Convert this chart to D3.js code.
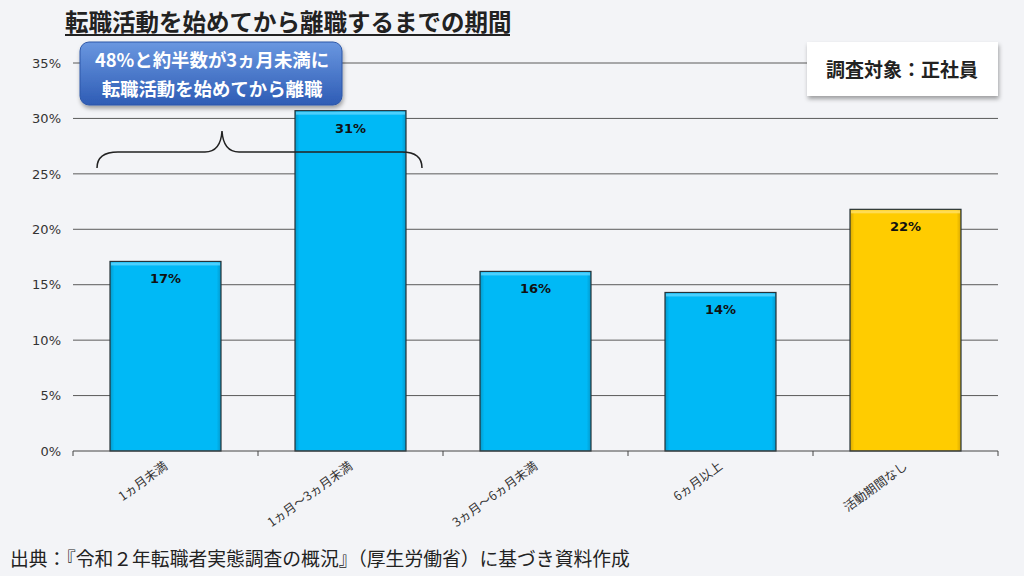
<!DOCTYPE html>
<html>
<head>
<meta charset="utf-8">
<script src="https://cdn.jsdelivr.net/npm/d3@7"></script>
<style>
  body { margin: 0; background: #f3f4f7; }
  svg { display: block; font-family: "Noto Sans CJK JP", "Noto Sans", sans-serif; }
</style>
</head>
<body>
<div id="chart"></div>
<script>
const width = 1024;
const height = 576;

const categories = ["1ヵ月未満", "1ヵ月～3ヵ月未満", "3ヵ月～6ヵ月未満", "6ヵ月以上", "活動期間なし"];
const values = [17.1, 30.7, 16.2, 14.3, 21.8];
const valueLabels = ["17%", "31%", "16%", "14%", "22%"];
const yTicks = [0, 5, 10, 15, 20, 25, 30, 35];

const data = categories.map((c, i) => ({ cat: c, value: values[i], label: valueLabels[i] }));

const svg = d3.select("#chart")
  .append("svg")
  .attr("width", width)
  .attr("height", height);

svg.append("rect").attr("width", width).attr("height", height).attr("fill", "#f3f4f7");

const defs = svg.append("defs");

function barGrad(id, edge, mid) {
  const g = defs.append("linearGradient").attr("id", id).attr("x1", 0).attr("x2", 1).attr("y1", 0).attr("y2", 0);
  g.append("stop").attr("offset", "0%").attr("stop-color", edge);
  g.append("stop").attr("offset", "4%").attr("stop-color", mid);
  g.append("stop").attr("offset", "96%").attr("stop-color", mid);
  g.append("stop").attr("offset", "100%").attr("stop-color", edge);
}
barGrad("blueBar", "#0399cc", "#00b9f6");
barGrad("goldBar", "#d9a800", "#ffcc00");

const calloutGrad = defs.append("linearGradient").attr("id", "callout").attr("x1", 0).attr("x2", 0).attr("y1", 0).attr("y2", 1);
calloutGrad.append("stop").attr("offset", "0%").attr("stop-color", "#6a97e0");
calloutGrad.append("stop").attr("offset", "100%").attr("stop-color", "#2e5cb5");

const shadow = defs.append("filter").attr("id", "shadow").attr("x", "-10%").attr("y", "-10%").attr("width", "130%").attr("height", "140%");
shadow.append("feDropShadow").attr("dx", 1).attr("dy", 3).attr("stdDeviation", 2).attr("flood-color", "#000").attr("flood-opacity", 0.35);

// scales
const xScale = d3.scaleBand()
  .domain(categories)
  .range([73, 998])
  .paddingInner(0.4)
  .paddingOuter(0.2);

const yScale = d3.scaleLinear()
  .domain([0, 35])
  .range([451, 63]);

// gridlines
svg.append("g")
  .selectAll("line")
  .data(yTicks.filter(d => d > 0))
  .enter()
  .append("line")
  .attr("x1", 73)
  .attr("x2", 998)
  .attr("y1", d => yScale(d))
  .attr("y2", d => yScale(d))
  .attr("stroke", "#5a5a5a")
  .attr("stroke-width", 1);

// y axis
const yAxis = d3.axisLeft(yScale)
  .tickValues(yTicks)
  .tickFormat(d => d + "%")
  .tickSize(0)
  .tickPadding(12);

const yG = svg.append("g")
  .attr("transform", "translate(73,0)")
  .call(yAxis);
yG.select(".domain").remove();
yG.selectAll("text")
  .attr("fill", "#333")
  .style("font-family", "'DejaVu Sans', Verdana, sans-serif")
  .style("font-size", "13px");

// bars
svg.append("g")
  .selectAll("rect")
  .data(data)
  .enter()
  .append("rect")
  .attr("x", d => xScale(d.cat))
  .attr("y", d => yScale(d.value))
  .attr("width", xScale.bandwidth())
  .attr("height", d => yScale(0) - yScale(d.value))
  .attr("fill", (d, i) => i === 4 ? "url(#goldBar)" : "url(#blueBar)")
  .attr("stroke", "#263238")
  .attr("stroke-width", 1.2);

// top highlight of bars
svg.append("g")
  .selectAll("rect")
  .data(data)
  .enter()
  .append("rect")
  .attr("x", d => xScale(d.cat) + 1)
  .attr("y", d => yScale(d.value) + 1)
  .attr("width", xScale.bandwidth() - 2)
  .attr("height", 3)
  .attr("fill", (d, i) => i === 4 ? "#ffe066" : "#5fd6ff")
  .attr("opacity", 0.8);

// value labels
svg.append("g")
  .selectAll("text")
  .data(data)
  .enter()
  .append("text")
  .attr("x", d => xScale(d.cat) + xScale.bandwidth() / 2)
  .attr("y", d => yScale(d.value) + 22)
  .attr("text-anchor", "middle")
  .attr("fill", "#111")
  .style("font-family", "'DejaVu Sans', Verdana, sans-serif")
  .style("font-weight", "bold")
  .style("font-size", "13px")
  .text(d => d.label);

// x axis
const xBoundary = d3.scaleLinear().domain([0, 5]).range([73, 998]);
const xAxisG = svg.append("g");
xAxisG.append("line")
  .attr("x1", 73).attr("x2", 998)
  .attr("y1", 451).attr("y2", 451)
  .attr("stroke", "#444");
xAxisG.selectAll("line.tick")
  .data(d3.range(0, 6))
  .enter()
  .append("line")
  .attr("class", "tick")
  .attr("x1", d => xBoundary(d)).attr("x2", d => xBoundary(d))
  .attr("y1", 451).attr("y2", 456)
  .attr("stroke", "#444");

xAxisG.selectAll("text")
  .data(categories)
  .enter()
  .append("text")
  .attr("transform", d => "translate(" + (xScale(d) + xScale.bandwidth() / 2 + 3) + ",468) rotate(-36)")
  .attr("text-anchor", "end")
  .attr("fill", "#333")
  .style("font-size", "12.5px")
  .text(d => d);

// title
svg.append("text")
  .attr("x", 65)
  .attr("y", 31)
  .attr("fill", "#222")
  .style("font-size", "23.5px")
  .style("font-weight", "bold")
  .text("転職活動を始めてから離職するまでの期間");
svg.append("line")
  .attr("x1", 65).attr("x2", 510)
  .attr("y1", 35).attr("y2", 35)
  .attr("stroke", "#222").attr("stroke-width", 2);

// callout
svg.append("rect")
  .attr("x", 80).attr("y", 42)
  .attr("width", 262).attr("height", 63)
  .attr("rx", 9)
  .attr("fill", "url(#callout)")
  .attr("stroke", "#2d57a8")
  .attr("filter", "url(#shadow)");
const callText = ["48%と約半数が3ヵ月未満に", "転職活動を始めてから離職"];
svg.append("g")
  .selectAll("text")
  .data(callText)
  .enter()
  .append("text")
  .attr("x", 212)
  .attr("y", (d, i) => 67 + i * 29)
  .attr("text-anchor", "middle")
  .attr("fill", "#fff")
  .style("font-size", "18.4px")
  .style("font-weight", "bold")
  .text(d => d);

// brace
svg.append("path")
  .attr("d", "M97,168 C97,158 104,152 118,152 L205,152 C214,152 221,147 222,131 C223,147 230,152 239,152 L402,152 C416,152 422,158 422,168")
  .attr("fill", "none")
  .attr("stroke", "#222")
  .attr("stroke-width", 1.5);

// legend box
svg.append("rect")
  .attr("x", 807).attr("y", 42)
  .attr("width", 191).attr("height", 54)
  .attr("fill", "#fff")
  .attr("filter", "url(#shadow)");
svg.append("text")
  .attr("x", 902).attr("y", 77)
  .attr("text-anchor", "middle")
  .attr("fill", "#222")
  .style("font-size", "19px")
  .style("font-weight", "bold")
  .text("調査対象：正社員");

// source
svg.append("text")
  .attr("x", 10).attr("y", 566)
  .attr("fill", "#222")
  .style("font-size", "18.8px")
  .text("出典：『令和２年転職者実態調査の概況』（厚生労働省）に基づき資料作成");
</script>
</body>
</html>
